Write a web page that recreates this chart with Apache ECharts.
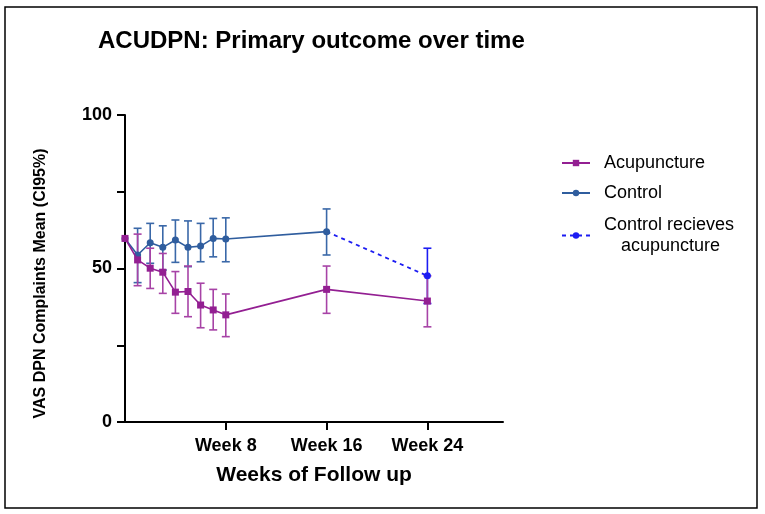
<!DOCTYPE html>
<html>
<head>
<meta charset="utf-8">
<script src="https://cdn.jsdelivr.net/npm/echarts@6/dist/echarts.min.js"></script>
<style>
html,body{margin:0;padding:0;background:#fff;}
#chart{width:765px;height:514px;}
</style>
</head>
<body>
<div id="chart"></div>
<script>
// ---- data ----
var acuWeeks = [0, 1, 2, 3, 4, 5, 6, 7, 8, 16, 24];
var acuMean  = [59.8, 52.8, 50.1, 48.8, 42.3, 42.5, 38.1, 36.5, 34.9, 43.2, 39.4];
var acuLow   = [null, 44.4, 43.5, 41.9, 35.4, 34.3, 30.7, 30.0, 27.8, 35.4, 31.0];
var acuHigh  = [null, 61.2, 56.6, 54.9, 49.0, 50.8, 45.2, 43.2, 41.7, 50.8, 47.6];

var ctlWeeks = [0, 1, 2, 3, 4, 5, 6, 7, 8, 16];
var ctlMean  = [59.8, 54.4, 58.4, 56.9, 59.3, 56.9, 57.3, 59.8, 59.6, 62.0];
var ctlLow   = [null, 45.4, 51.7, 49.5, 52.0, 50.6, 52.2, 53.8, 52.2, 54.4];
var ctlHigh  = [null, 63.1, 64.7, 63.9, 65.8, 65.5, 64.7, 66.3, 66.5, 69.4];

var crossWeeks = [16, 24];
var crossMean  = [62.0, 47.6];
var crossLow   = [null, 38.6];
var crossHigh  = [null, 56.6];

var xTickWeeks = [8, 16, 24];
var yTicks = [0, 25, 50, 75, 100];
var yLabelTicks = [0, 50, 100];

var seriesNames = ['Acupuncture', 'Control', 'Control recieves\nacupuncture'];

// ---- helpers ----
function pts(xs, ys) { return xs.map(function (x, i) { return [x, ys[i]]; }); }
function errs(xs, lo, hi) {
  var out = [];
  xs.forEach(function (x, i) { if (lo[i] != null) out.push([x, lo[i], hi[i]]); });
  return out;
}
function errRender(color) {
  return function (params, api) {
    var x = api.value(0);
    var a = api.coord([x, api.value(1)]);
    var b = api.coord([x, api.value(2)]);
    var hw = 4;
    var st = { stroke: color, lineWidth: 1.6 };
    return {
      type: 'group',
      children: [
        { type: 'line', shape: { x1: a[0], y1: a[1], x2: b[0], y2: b[1] }, style: st },
        { type: 'line', shape: { x1: a[0] - hw, y1: a[1], x2: a[0] + hw, y2: a[1] }, style: st },
        { type: 'line', shape: { x1: b[0] - hw, y1: b[1], x2: b[0] + hw, y2: b[1] }, style: st }
      ]
    };
  };
}

var PURPLE = '#931f92';
var PURPLE_ERR = '#a743a6';
var BLUE = '#2f5d9e';
var BLUE_ERR = '#3a68a8';
var DASH = '#1c1cf2';

var crossData = pts(crossWeeks, crossMean).map(function (p, i) {
  return i === 0 ? { value: p, symbol: 'none' } : { value: p };
});

var chart = echarts.init(document.getElementById('chart'), null, { renderer: 'canvas' });
var FONT = 'Liberation Sans, Arial, sans-serif';

chart.setOption({
  animation: false,
  backgroundColor: '#fff',
  textStyle: { fontFamily: FONT },
  title: {
    text: 'ACUDPN: Primary outcome over time',
    left: 98, top: 29, padding: 0,
    textStyle: { fontFamily: FONT, fontSize: 24, fontWeight: 'bold', color: '#000' }
  },
  graphic: [{
    type: 'rect', shape: { x: 5, y: 7, width: 752, height: 501 },
    style: { fill: 'none', stroke: '#000', lineWidth: 1.5 }, silent: true
  }],
  legend: [
    {
      data: [seriesNames[0]], left: 561, top: 154, padding: 0, orient: 'vertical',
      itemWidth: 28, itemHeight: 8,
      textStyle: { fontFamily: FONT, fontSize: 18, color: '#000', padding: [0, 0, 0, 9] }
    },
    {
      data: [seriesNames[1]], left: 561, top: 184, padding: 0, orient: 'vertical',
      itemWidth: 28, itemHeight: 8,
      textStyle: { fontFamily: FONT, fontSize: 18, color: '#000', padding: [0, 0, 0, 9] }
    },
    {
      data: [seriesNames[2]], left: 561, top: 216, padding: 0, orient: 'vertical',
      itemWidth: 28, itemHeight: 8,
      formatter: function () { return '{a|Control recieves}\n{b|acupuncture}'; },
      textStyle: {
        fontFamily: FONT, fontSize: 18, color: '#000', padding: [0, 0, 0, 9],
        rich: {
          a: { fontFamily: FONT, fontSize: 18, color: '#000', lineHeight: 21 },
          b: { fontFamily: FONT, fontSize: 18, color: '#000', lineHeight: 21, padding: [0, 0, 0, 17] }
        }
      }
    }
  ],
  grid: { left: 125, right: 262, top: 115, bottom: 92, containLabel: false },
  xAxis: {
    type: 'value', min: 0, max: 30, interval: 8,
    name: 'Weeks of Follow up', nameLocation: 'middle', nameGap: 43,
    nameTextStyle: { fontFamily: FONT, fontSize: 21, fontWeight: 'bold', color: '#000' },
    axisLine: { show: true, onZero: false, lineStyle: { color: '#000', width: 2 } },
    axisTick: { show: true, length: 8, lineStyle: { color: '#000', width: 2 }, customValues: xTickWeeks },
    axisLabel: {
      customValues: xTickWeeks, margin: 15,
      formatter: function (v) { return 'Week ' + v; },
      fontFamily: FONT, fontSize: 18, fontWeight: 'bold', color: '#000'
    },
    splitLine: { show: false }
  },
  yAxis: {
    type: 'value', min: 0, max: 100, interval: 25,
    name: 'VAS DPN Complaints Mean (CI95%)', nameLocation: 'middle', nameGap: 76,
    nameTextStyle: { fontFamily: FONT, fontSize: 16, fontWeight: 'bold', color: '#000', padding: [0, 30, 0, 0] },
    axisLine: { show: true, lineStyle: { color: '#000', width: 2 } },
    axisTick: { show: true, length: 8, lineStyle: { color: '#000', width: 2 }, customValues: yTicks },
    axisLabel: {
      customValues: yLabelTicks, margin: 13,
      fontFamily: FONT, fontSize: 18, fontWeight: 'bold', color: '#000'
    },
    splitLine: { show: false }
  },
  series: [
    {
      type: 'custom', name: 'ctlErr', renderItem: errRender(BLUE_ERR),
      data: errs(ctlWeeks, ctlLow, ctlHigh), z: 2, silent: true
    },
    {
      type: 'custom', name: 'crossErr', renderItem: errRender(DASH),
      data: errs(crossWeeks, crossLow, crossHigh), z: 2, silent: true
    },
    {
      type: 'custom', name: 'acuErr', renderItem: errRender(PURPLE_ERR),
      data: errs(acuWeeks, acuLow, acuHigh), z: 3, silent: true
    },
    {
      type: 'line', name: seriesNames[1], data: pts(ctlWeeks, ctlMean),
      symbol: 'circle', symbolSize: 7, showAllSymbol: true,
      lineStyle: { color: BLUE, width: 1.6 }, itemStyle: { color: BLUE }, z: 4
    },
    {
      type: 'line', name: seriesNames[2], data: crossData,
      symbol: 'circle', symbolSize: 7, showAllSymbol: true,
      lineStyle: { color: DASH, width: 1.8, type: [4, 4] }, itemStyle: { color: DASH }, z: 4
    },
    {
      type: 'line', name: seriesNames[0], data: pts(acuWeeks, acuMean),
      symbol: 'rect', symbolSize: 7, showAllSymbol: true,
      lineStyle: { color: PURPLE, width: 1.6 }, itemStyle: { color: PURPLE }, z: 5
    }
  ]
});
</script>
</body>
</html>
